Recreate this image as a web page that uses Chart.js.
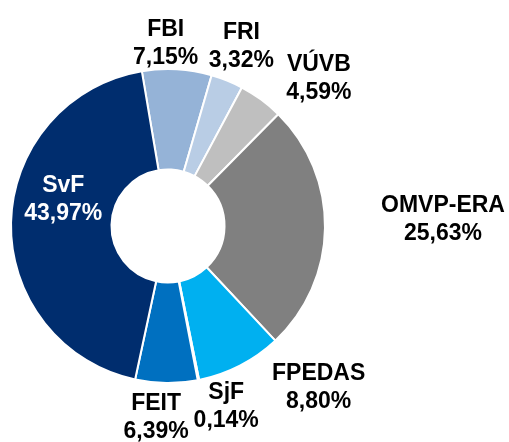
<!DOCTYPE html>
<html>
<head>
<meta charset="utf-8">
<script src="https://cdn.jsdelivr.net/npm/chart.js@4/dist/chart.umd.min.js"></script>
<style>
  html, body { margin: 0; padding: 0; background: #fff; }
  #wrap { width: 509px; height: 442px; }
</style>
</head>
<body>
<div id="wrap"><canvas id="donutChart"></canvas></div>
<script>
const categories = ['FBI', 'FRI', 'VÚVB', 'OMVP-ERA', 'FPEDAS', 'SjF', 'FEIT', 'SvF'];
const shares = [7.15, 3.32, 4.59, 25.63, 8.80, 0.14, 6.39, 43.97];

const colors = ['#95B3D7', '#B9CDE5', '#BFBFBF', '#808080', '#00B0F0', '#4F81BD', '#0070C0', '#002D6E'];
// label placement: nudge from a point just outside the arc (or ring middle for inside labels)
const labelNudge = [[-13, 4], [3, -6], [40, 3], [88, -9], [65, -5], [22, -3], [-10, 5], [2, -24]];
const labelInside = [false, false, false, false, false, false, false, true];

const fmt = v => v.toFixed(2).replace('.', ',') + '%';

const sliceLabels = {
  id: 'sliceLabels',
  afterDatasetsDraw(chart) {
    const ctx = chart.ctx;
    const arcs = chart.getDatasetMeta(0).data;
    ctx.save();
    ctx.font = 'bold 23px "Liberation Sans", Arial, sans-serif';
    ctx.textAlign = 'center';
    ctx.textBaseline = 'middle';
    arcs.forEach((arc, i) => {
      const p = arc.getProps(['x', 'y', 'startAngle', 'endAngle', 'innerRadius', 'outerRadius'], true);
      const mid = (p.startAngle + p.endAngle) / 2;
      const r = labelInside[i] ? (p.innerRadius + p.outerRadius) / 2 : p.outerRadius + 30;
      const x = p.x + r * Math.cos(mid) + labelNudge[i][0];
      const y = p.y + r * Math.sin(mid) + labelNudge[i][1];
      ctx.fillStyle = labelInside[i] ? '#ffffff' : '#000000';
      ctx.fillText(categories[i], x, y - 14);
      ctx.fillText(fmt(shares[i]), x, y + 14);
    });
    ctx.restore();
  }
};

new Chart(document.getElementById('donutChart').getContext('2d'), {
  type: 'doughnut',
  data: {
    labels: categories,
    datasets: [{
      data: shares,
      backgroundColor: colors,
      borderColor: '#ffffff',
      borderWidth: 2
    }]
  },
  options: {
    responsive: true,
    maintainAspectRatio: false,
    animation: false,
    rotation: -9.6,
    cutout: '36%',
    layout: {
      padding: { left: 10, top: 68, right: 183, bottom: 58 }
    },
    plugins: {
      legend: { display: false },
      tooltip: { enabled: false }
    }
  },
  plugins: [sliceLabels]
});
</script>
</body>
</html>
